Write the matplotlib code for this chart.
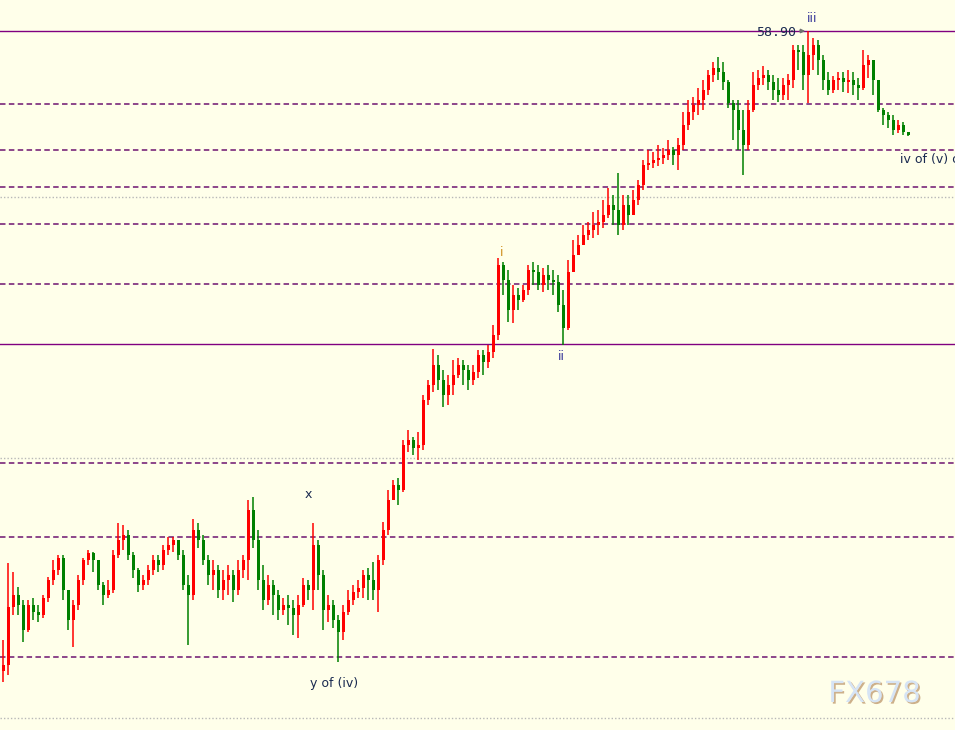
import numpy as np
import matplotlib
matplotlib.use("Agg")
import matplotlib.pyplot as plt
import matplotlib.patheffects as pe

# 收盘 / 最高 / 最低价 (开盘价 = 上一根收盘价)
close = [52.56, 53.14, 53.26, 53.16, 52.91, 53.16, 53.09, 53.06, 53.23, 53.41,
         53.51, 53.63, 53.31, 53.01, 53.16, 53.41, 53.61, 53.68, 53.61, 53.36,
         53.26, 53.31, 53.66, 53.81, 53.86, 53.66, 53.51, 53.36, 53.41, 53.51,
         53.61, 53.56, 53.71, 53.76, 53.81, 53.66, 53.36, 53.26, 53.91, 53.81,
         53.61, 53.46, 53.51, 53.31, 53.41, 53.46, 53.31, 53.51, 53.61, 54.11,
         53.81, 53.41, 53.21, 53.36, 53.26, 53.11, 53.16, 53.13, 53.06, 53.16,
         53.36, 53.31, 53.76, 53.46, 53.11, 53.16, 53.01, 52.89, 53.09, 53.21,
         53.29, 53.33, 53.46, 53.41, 53.31, 53.61, 53.91, 54.21, 54.36, 54.31,
         54.76, 54.81, 54.73, 54.76, 55.21, 55.36, 55.56, 55.41, 55.26, 55.36,
         55.46, 55.56, 55.51, 55.41, 55.49, 55.66, 55.59, 55.69, 55.86, 56.56,
         56.41, 56.11, 56.26, 56.21, 56.31, 56.51, 56.49, 56.36, 56.46, 56.41,
         56.39, 56.16, 55.93, 56.49, 56.66, 56.76, 56.86, 56.91, 56.96, 56.99,
         57.06, 57.16, 57.11, 56.96, 57.16, 57.06, 57.21, 57.36, 57.56, 57.58,
         57.61, 57.63, 57.66, 57.71, 57.66, 57.76, 57.96, 58.09, 58.16, 58.21,
         58.31, 58.46, 58.53, 58.49, 58.39, 58.18, 58.11, 57.91, 57.76, 58.11,
         58.36, 58.43, 58.46, 58.39, 58.31, 58.26, 58.36, 58.41, 58.71, 58.69,
         58.46, 58.66, 58.76, 58.61, 58.41, 58.31, 58.41, 58.43, 58.39, 58.41,
         58.36, 58.33, 58.56, 58.61, 58.41, 58.11, 58.06, 58.01, 57.91, 57.96,
         57.89, 57.86]
high = [52.81, 53.58, 53.49, 53.34, 53.21, 53.21, 53.23, 53.16, 53.26, 53.44,
        53.61, 53.66, 53.66, 53.31, 53.21, 53.46, 53.63, 53.71, 53.69, 53.61,
        53.39, 53.41, 53.71, 53.98, 53.96, 53.91, 53.69, 53.53, 53.46, 53.56,
        53.66, 53.66, 53.76, 53.84, 53.84, 53.81, 53.71, 53.46, 54.02, 53.98,
        53.86, 53.66, 53.61, 53.56, 53.51, 53.56, 53.51, 53.61, 53.66, 54.21,
        54.24, 53.91, 53.56, 53.46, 53.41, 53.31, 53.23, 53.26, 53.21, 53.26,
        53.43, 53.41, 53.98, 53.81, 53.51, 53.26, 53.21, 53.06, 53.16, 53.31,
        53.36, 53.41, 53.51, 53.53, 53.59, 53.66, 53.99, 54.31, 54.41, 54.43,
        54.81, 54.91, 54.84, 54.89, 55.26, 55.41, 55.72, 55.66, 55.51, 55.46,
        55.61, 55.63, 55.61, 55.56, 55.56, 55.71, 55.71, 55.76, 55.96, 56.63,
        56.59, 56.51, 56.36, 56.33, 56.36, 56.56, 56.59, 56.56, 56.53, 56.56,
        56.51, 56.46, 56.31, 56.61, 56.81, 56.86, 56.96, 56.99, 57.09, 57.11,
        57.21, 57.33, 57.26, 57.48, 57.26, 57.26, 57.31, 57.41, 57.61, 57.71,
        57.69, 57.76, 57.73, 57.81, 57.74, 57.83, 58.09, 58.21, 58.24, 58.33,
        58.41, 58.51, 58.59, 58.64, 58.59, 58.41, 58.21, 58.21, 58.11, 58.21,
        58.49, 58.51, 58.55, 58.51, 58.46, 58.43, 58.43, 58.47, 58.76, 58.76,
        58.76, 58.90, 58.83, 58.81, 58.66, 58.49, 58.45, 58.49, 58.49, 58.51,
        58.49, 58.43, 58.71, 58.66, 58.61, 58.41, 58.13, 58.09, 58.06, 58.01,
        57.99, 57.89]
low = [52.39, 52.46, 53.06, 53.06, 52.79, 52.89, 53.01, 52.99, 53.03, 53.19,
       53.36, 53.46, 53.21, 52.91, 52.74, 53.11, 53.36, 53.56, 53.49, 53.31,
       53.16, 53.23, 53.28, 53.63, 53.71, 53.61, 53.43, 53.29, 53.31, 53.36,
       53.46, 53.49, 53.51, 53.66, 53.69, 53.61, 53.31, 52.76, 53.21, 53.73,
       53.56, 53.36, 53.31, 53.23, 53.21, 53.26, 53.19, 53.26, 53.43, 53.41,
       53.73, 53.31, 53.11, 53.16, 53.06, 53.01, 53.06, 52.96, 52.86, 52.83,
       53.14, 53.21, 53.11, 53.31, 52.91, 52.99, 52.93, 52.59, 52.81, 53.06,
       53.16, 53.23, 53.23, 53.21, 53.21, 53.09, 53.56, 53.86, 54.21, 54.16,
       54.29, 54.69, 54.66, 54.61, 54.71, 55.16, 55.29, 55.31, 55.14, 55.16,
       55.26, 55.43, 55.36, 55.31, 55.36, 55.43, 55.46, 55.53, 55.63, 55.81,
       56.26, 55.99, 55.98, 56.11, 56.19, 56.26, 56.36, 56.31, 56.29, 56.31,
       56.26, 56.09, 55.76, 55.91, 56.51, 56.66, 56.76, 56.81, 56.83, 56.86,
       56.93, 57.03, 56.96, 56.86, 56.91, 56.96, 57.06, 57.16, 57.31, 57.51,
       57.53, 57.55, 57.57, 57.61, 57.56, 57.51, 57.71, 57.91, 58.01, 58.06,
       58.11, 58.26, 58.39, 58.41, 58.31, 58.13, 57.81, 57.71, 57.46, 57.71,
       58.09, 58.31, 58.36, 58.31, 58.21, 58.19, 58.21, 58.21, 58.33, 58.51,
       58.31, 58.18, 58.51, 58.46, 58.31, 58.26, 58.28, 58.31, 58.29, 58.28,
       58.26, 58.21, 58.31, 58.43, 58.26, 58.09, 57.96, 57.93, 57.86, 57.88,
       57.86, 57.85]

# 水平线
dash_levels = [58.17, 57.71, 57.34, 56.97, 56.37, 54.58, 53.84, 52.64]
solid_levels = [58.90, 55.77]
grid_levels = [57.24, 54.63, 52.03]

# 波浪标注 (文本, K线序号, 价格, 颜色, 对齐)
labels = [
    ("i", 99.8, 56.69, "#D09020", "center"),
    ("ii", 111.6, 55.65, "#3A3A9A", "center"),
    ("iii", 161.8, 59.03, "#3A3A9A", "center"),
    ("x", 61.0, 54.26, "#1A2A50", "center"),
    ("y of (iv)", 66.2, 52.37, "#1A2A50", "center"),
    ("iv of (v) of", 179.4, 57.62, "#1A2A50", "left"),
]

close = np.array(close)
high = np.array(high)
low = np.array(low)
opn = np.concatenate([[52.50], close[:-1]])
high = np.maximum(high, np.maximum(opn, close))
low = np.minimum(low, np.minimum(opn, close))
idx = np.arange(len(close))

colors = np.where(close > opn, "#FF0000", np.where(close < opn, "#008000", "#000000"))

fig = plt.figure(figsize=(9.55, 7.3), dpi=100)
fig.patch.set_facecolor("#FFFFEA")
ax = fig.add_axes([0, 0, 1, 1])
ax.set_facecolor("#FFFFEA")

for lv in grid_levels:
    ax.axhline(lv, color="#B8B8B8", lw=1.0, ls=(0, (1, 1.5)), zorder=1)
for lv in dash_levels:
    ax.axhline(lv, color="#6E1470", lw=1.1, ls=(0, (3.6, 2.2)), zorder=1)
for lv in solid_levels:
    ax.axhline(lv, color="#800080", lw=1.0, zorder=1)

ax.vlines(idx, low, high, colors=colors, lw=1.1, zorder=3)
body_bottom = np.minimum(opn, close)
body_h = np.maximum(np.abs(close - opn), 0.008)
ax.bar(idx, body_h, bottom=body_bottom, width=0.6, color=colors, zorder=3)

for txt, xi, yv, col, ha in labels:
    ax.text(xi, yv, txt, color=col, fontsize=9, ha=ha, va="center", zorder=5)

# 58.90 价格标注
ax.text(158.6, 58.89, "58.90", color="#1A2A50", fontsize=9.5, family="DejaVu Sans Mono",
        ha="right", va="center", zorder=5)
ax.annotate("", xy=(161.0, 58.90), xytext=(158.8, 58.90),
            arrowprops=dict(arrowstyle="-|>", color="#707070", lw=1.0, mutation_scale=6), zorder=5)

# 水印
ax.text(174.3, 52.27, "FX678", color="#D6E4F5", fontsize=21,
        ha="center", va="center", zorder=2,
        path_effects=[pe.SimplePatchShadow(offset=(1.2, -1.2), shadow_rgbFace="#C8A880", alpha=0.9),
                      pe.Normal()])

ax.set_xlim(-0.6, 190.4)
ax.set_ylim(51.91, 59.21)
ax.axis("off")

fig.savefig("out.png", dpi=100, facecolor=fig.get_facecolor())
